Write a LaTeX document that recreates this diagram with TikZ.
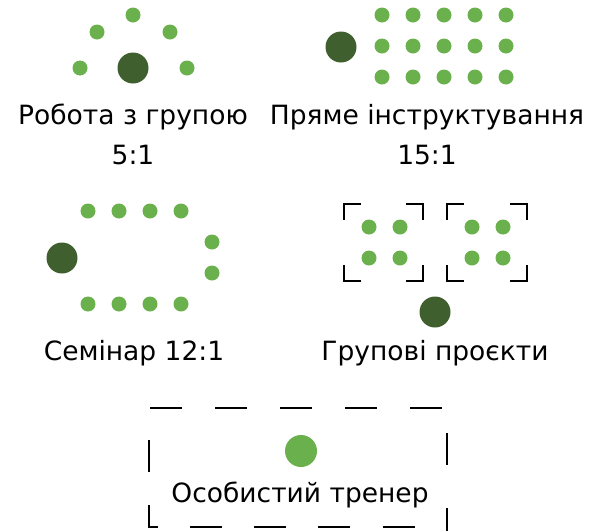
\documentclass[tikz,border=0pt]{standalone}
\usepackage{fontspec}
\setmainfont{DejaVu Sans}
\definecolor{lg}{RGB}{106,176,76}
\definecolor{dg}{RGB}{63,95,46}
\begin{document}
\begin{tikzpicture}[x=1pt,y=-1pt,
  sdot/.style={circle,fill=lg,inner sep=0pt,minimum size=15pt},
  bdot/.style={circle,fill=dg,inner sep=0pt,minimum size=31pt},
  pdot/.style={circle,fill=lg,inner sep=0pt,minimum size=32pt},
  lbl/.style={font=\fontsize{26.5}{30}\selectfont,inner sep=0pt,anchor=center},
  brk/.style={line width=2.9pt,line cap=butt},
  dsh/.style={line width=2.9pt}]
\useasboundingbox (0,0) rectangle (602,531);
% Panel 1
\node[sdot] (a1) at (133,15) {};
\node[sdot] (a2) at (97,32) {};
\node[sdot] (a3) at (170,32) {};
\node[sdot] (a4) at (80,68) {};
\node[sdot] (a5) at (187,68) {};
\node[bdot] (a0) at (133,68) {};
\node[lbl] (at) at (133,117) {Робота з групою};
\node[lbl] (ar) at (133,155) {5:1};
% Panel 2
\node[bdot] (b0) at (341,47) {};
\foreach \i/\x in {1/382,2/413,3/444,4/475,5/506}{
  \foreach \j/\y in {1/15,2/46,3/77}{
    \node[sdot] (b\i\j) at (\x,\y) {};
  }
}
\node[lbl] (bt) at (427,117) {Пряме інструктування};
\node[lbl] (br) at (427,155) {15:1};
% Panel 3
\node[bdot] (c0) at (62,258) {};
\foreach \i/\x in {1/88,2/119,3/150,4/181}{
  \node[sdot] (ct\i) at (\x,211) {};
  \node[sdot] (cb\i) at (\x,304) {};
}
\node[sdot] (cr1) at (212,242) {};
\node[sdot] (cr2) at (212,273) {};
\node[lbl] (ct) at (134,353) {Семінар 12:1};
% Panel 4
\foreach \g/\xa/\xb/\da/\db in {l/344/423/369/400, r/447/527/472/503}{
  \draw[brk] (\xa,220) -- (\xa,204) -- (\xa+17,204);
  \draw[brk] (\xb-17,204) -- (\xb,204) -- (\xb,220);
  \draw[brk] (\xa,265) -- (\xa,281) -- (\xa+17,281);
  \draw[brk] (\xb-17,281) -- (\xb,281) -- (\xb,265);
  \node[sdot] (d\g11) at (\da,227) {};
  \node[sdot] (d\g21) at (\db,227) {};
  \node[sdot] (d\g12) at (\da,258) {};
  \node[sdot] (d\g22) at (\db,258) {};
}
\node[bdot] (d0) at (435,312) {};
\node[lbl] (dt) at (435,353) {Групові проєкти};
% Panel 5
\foreach \x in {150,215,280,345,410}{
  \draw[dsh] (\x,408) -- (\x+32,408);
}
\draw[dsh] (149,440) -- (149,472);
\draw[dsh] (149,505) -- (149,527) -- (158,527);
\foreach \x in {190,254,318,383}{
  \draw[dsh] (\x,527) -- (\x+32,527);
}
\draw[dsh] (447,433) -- (447,465);
\draw[dsh] (447,508) -- (447,531);
\node[pdot] (e0) at (301,451) {};
\node[lbl] (et) at (300,495) {Особистий тренер};
\end{tikzpicture}
\end{document}
